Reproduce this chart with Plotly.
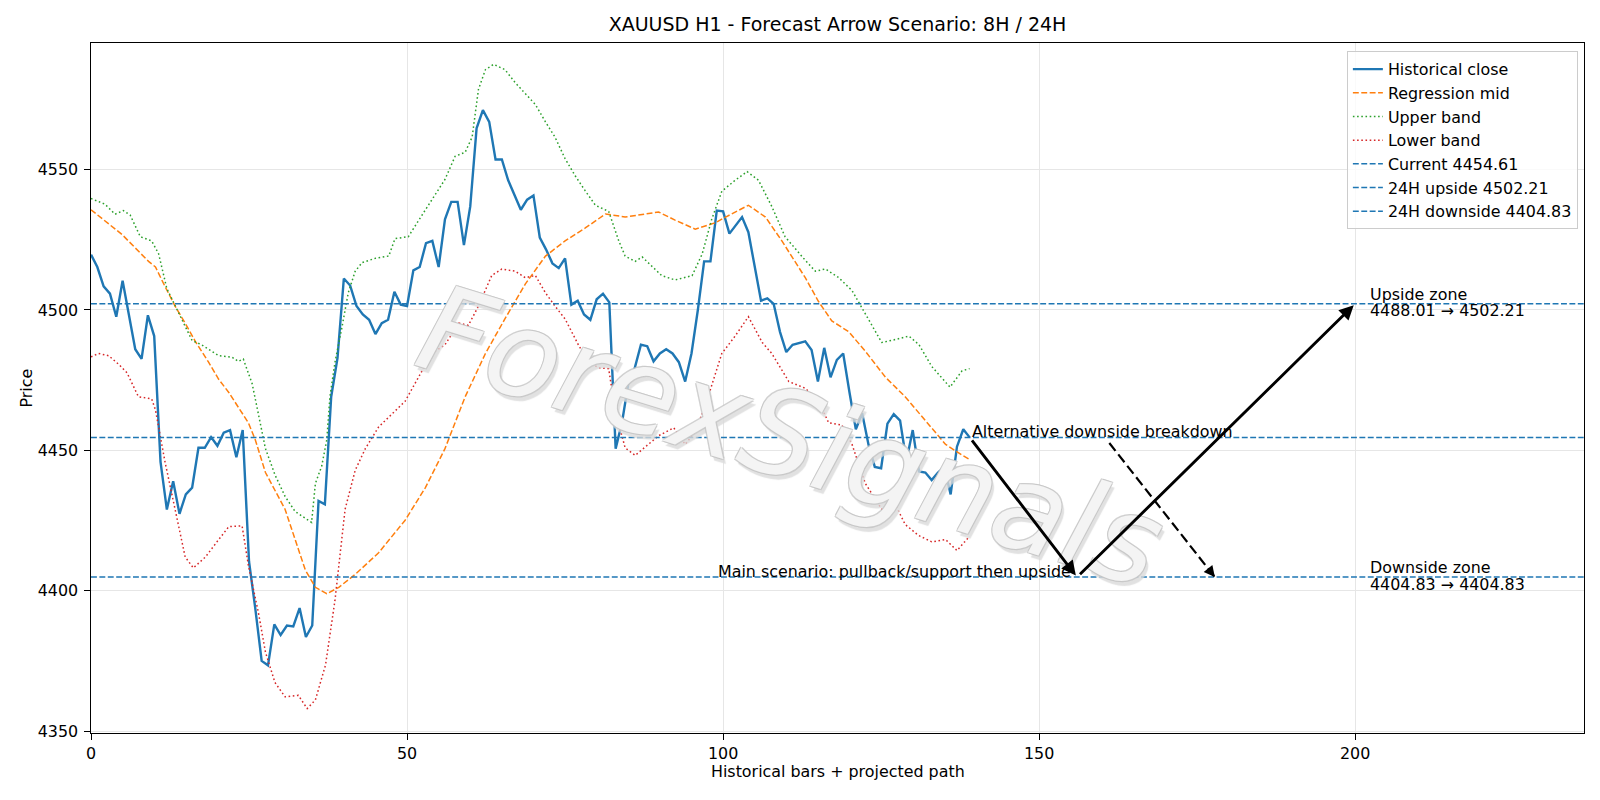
import plotly.graph_objects as go

# ---------------- data ----------------
close = [4519.7, 4515.3, 4508.4, 4505.8, 4497.6, 4510.4, 4498.2, 4486.0, 4482.6, 4498.1,
         4490.7, 4445.9, 4428.9, 4439.0, 4427.4, 4434.3, 4436.7, 4450.9, 4450.9, 4454.7,
         4451.6, 4456.3, 4457.2, 4447.5, 4457.2, 4410.4, 4393.5, 4375.0, 4373.4, 4388.0,
         4384.2, 4387.6, 4387.3, 4393.8, 4383.5, 4387.6, 4432.0, 4430.8, 4469.1, 4482.9,
         4511.2, 4508.7, 4501.4, 4498.4, 4496.5, 4491.4, 4495.3, 4496.5, 4506.5, 4501.9,
         4501.4, 4514.1, 4515.3, 4523.8, 4524.6, 4515.3, 4532.3, 4538.5, 4538.5, 4523.1,
         4536.9, 4564.7, 4571.2, 4567.0, 4553.6, 4553.6, 4546.2, 4540.8, 4535.7, 4539.3,
         4540.8, 4525.8, 4521.5, 4516.6, 4514.9, 4518.4, 4501.9, 4503.3, 4498.4, 4496.5,
         4503.8, 4505.8, 4502.7, 4450.6, 4459.8, 4473.7, 4479.1, 4487.6, 4487.1, 4481.7,
         4484.5, 4486.0, 4484.5, 4481.4, 4474.5, 4484.5, 4499.9, 4517.3, 4517.3, 4535.4,
         4535.1, 4527.2, 4530.0, 4533.1, 4527.7, 4515.3, 4503.3, 4504.1, 4502.2, 4492.2,
         4485.0, 4487.6, 4488.2, 4488.8, 4485.7, 4474.5, 4486.5, 4476.0, 4482.2, 4484.5,
         4470.6, 4457.5, 4463.2, 4452.1, 4444.1, 4443.6, 4459.5, 4462.9, 4460.6, 4446.2,
         4457.2, 4442.5, 4442.1, 4439.4, 4442.1, 4444.1, 4434.3, 4451.3, 4457.5, 4454.61]
bars = list(range(len(close)))

mid_x = [0, 4.9, 9.1, 10.2, 11.7, 13.3, 14.9, 16.5, 18.6, 20.2, 21.8, 23.3, 24.9, 26.0, 27.6,
         30.7, 33.9, 35.5, 37.3, 39.2, 41.8, 45.5, 49.7, 52.9, 56.0, 59.2, 62.4, 65.5, 68.7,
         71.9, 75.0, 78.2, 81.4, 84.5, 89.8, 92.4, 95.6, 98.8, 100.4, 104.0, 106.7, 109.3,
         113.0, 115.1, 117.2, 119.9, 122.5, 125.7, 128.8, 132.0, 135.2, 137.8, 139]
mid_y = [4535.7, 4526.9, 4517.3, 4515.3, 4508.4, 4501.4, 4495.3, 4488.8, 4481.4, 4475.3,
         4470.6, 4465.2, 4459.8, 4453.7, 4442.1, 4429.0, 4407.4, 4401.2, 4398.9, 4401.2,
         4405.8, 4413.5, 4425.1, 4436.7, 4450.6, 4469.1, 4484.5, 4496.9, 4509.2, 4519.2,
         4524.6, 4529.2, 4534.2, 4533.1, 4534.9, 4532.0, 4528.8, 4531.1, 4533.1, 4537.3,
         4533.1, 4524.6, 4511.5, 4503.0, 4496.1, 4492.2, 4485.3, 4476.0, 4469.1, 4460.6,
         4452.1, 4448.3, 4446.7]

upper_x = [0, 2.2, 3.8, 5.1, 6.2, 7.8, 9.6, 10.7, 12.0, 13.3, 16.0, 17.5, 20.2, 22.3, 23.3,
           24.1, 25.5, 27.6, 29.1, 30.7, 32.3, 34.9, 35.5, 36.5, 37.3, 37.8, 38.6, 39.7, 40.7,
           41.8, 42.9, 45.0, 47.1, 48.1, 50.2, 52.4, 53.9, 56.0, 57.6, 59.2, 60.3, 61.3, 62.4,
           63.7, 65.5, 67.1, 68.7, 70.3, 71.9, 73.4, 75.0, 76.6, 78.2, 79.8, 81.9, 83.5, 84.5,
           86.1, 87.2, 88.8, 90.3, 92.4, 95.1, 96.7, 98.2, 99.8, 101.9, 103.8, 105.6, 107.7,
           109.8, 113.0, 114.6, 116.2, 118.3, 120.4, 122.5, 125.1, 127.3, 129.4, 131.0, 133.0,
           135.9, 137.8, 139]
upper_y = [4539.7, 4537.7, 4534.1, 4535.4, 4533.8, 4526.1, 4524.6, 4520.0, 4507.6, 4501.4,
           4489.1, 4487.6, 4483.7, 4483.2, 4481.7, 4482.5, 4473.7, 4450.6, 4441.3, 4433.6,
           4428.2, 4424.3, 4438.2, 4444.4, 4453.7, 4469.1, 4481.4, 4493.8, 4506.1, 4513.8,
           4516.9, 4518.4, 4519.2, 4525.4, 4526.1, 4533.9, 4539.3, 4546.5, 4554.7, 4556.2,
           4561.6, 4578.6, 4585.6, 4587.5, 4585.6, 4581.0, 4577.1, 4573.2, 4567.0, 4561.6,
           4553.9, 4547.8, 4542.4, 4537.3, 4535.1, 4524.6, 4519.2, 4517.3, 4518.9, 4515.3,
           4512.2, 4510.7, 4512.2, 4520.0, 4532.3, 4542.3, 4546.2, 4549.3, 4546.2, 4536.9,
           4526.1, 4517.7, 4513.8, 4514.6, 4511.5, 4506.9, 4498.4, 4488.4, 4489.5, 4490.7,
           4487.6, 4479.9, 4472.5, 4478.3, 4479.1]

lower_x = [0, 1.2, 2.8, 4.4, 5.7, 7.5, 9.6, 10.2, 11.7, 13.3, 14.9, 16.2, 18.1, 20.2, 21.8,
           23.9, 24.9, 26.5, 27.6, 29.1, 30.7, 32.8, 34.2, 35.5, 37.1, 38.6, 40.2, 41.8, 43.4,
           45.5, 47.6, 49.7, 51.8, 53.9, 56.0, 58.2, 59.7, 61.3, 63.4, 65.0, 67.1, 68.7, 70.3,
           71.9, 73.4, 75.0, 77.1, 78.7, 80.3, 81.9, 82.9, 84.5, 86.1, 87.7, 89.8, 92.2, 94.0,
           95.6, 97.2, 99.8, 101.9, 104.0, 106.2, 107.7, 110.4, 113.0, 115.1, 116.7, 118.8,
           120.4, 122.5, 125.1, 127.3, 128.8, 130.9, 133.0, 135.2, 137.0, 139]
lower_y = [4483.3, 4484.5, 4483.7, 4480.6, 4477.6, 4469.1, 4468.3, 4464.4, 4446.0, 4429.0,
           4412.0, 4408.1, 4412.0, 4418.2, 4422.8, 4423.1, 4409.0, 4392.0, 4378.1, 4367.3,
           4362.2, 4362.7, 4358.0, 4361.1, 4373.5, 4396.6, 4429.0, 4442.9, 4450.6, 4458.3,
           4462.9, 4467.5, 4476.0, 4484.5, 4487.6, 4495.3, 4494.5, 4501.4, 4512.3, 4514.6,
           4513.8, 4511.5, 4512.3, 4506.1, 4501.4, 4496.8, 4487.6, 4481.4, 4479.4, 4479.1,
           4464.4, 4450.9, 4448.2, 4451.3, 4455.2, 4458.0, 4452.1, 4456.7, 4466.0, 4484.5,
           4490.7, 4497.6, 4488.4, 4484.5, 4474.5, 4472.1, 4467.5, 4459.8, 4459.0, 4452.1,
           4438.2, 4429.0, 4430.5, 4423.6, 4419.7, 4417.4, 4418.2, 4414.3, 4419.4]

current_price = 4454.61
upside_24h = 4502.21
downside_24h = 4404.83
upside_zone_low = 4488.01

main_path_x = [139, 156, 200]
main_path_y = [current_price, downside_24h, upside_24h]
alt_start = (161.1, 4452.6)
alt_end = (177.8, downside_24h)
zone_label_x = 202
main_label_x = 155.3

x_range = [0, 236.2]
y_range = [4349.3, 4595.1]
x_ticks = [0, 50, 100, 150, 200]
y_ticks = [4350, 4400, 4450, 4500, 4550]

# ---------------- style ----------------
FONT = "DejaVu Sans"
FS = 15.9
BLUE = "#1f77b4"
ORANGE = "#ff7f0e"
GREEN = "#2ca02c"
RED = "#d62728"
DASH = "5.9px,2.5px"
DOT = "1.6px,2.6px"
TEXT_SHIFT = -6

W, H = 1600, 800
ML, MR, MT, MB = 91, 16, 43, 67
pw = W - ML - MR
ph = H - MT - MB

fig = go.Figure()
fig.add_trace(go.Scatter(x=bars, y=close, mode="lines", name="Historical close",
                         line=dict(color=BLUE, width=2.4)))
fig.add_trace(go.Scatter(x=mid_x, y=mid_y, mode="lines", name="Regression mid",
                         line=dict(color=ORANGE, width=1.5, dash=DASH)))
fig.add_trace(go.Scatter(x=upper_x, y=upper_y, mode="lines", name="Upper band",
                         line=dict(color=GREEN, width=1.5, dash=DOT)))
fig.add_trace(go.Scatter(x=lower_x, y=lower_y, mode="lines", name="Lower band",
                         line=dict(color=RED, width=1.5, dash=DOT)))
for lvl, nm in [(current_price, f"Current {current_price:.2f}"),
                (upside_24h, f"24H upside {upside_24h:.2f}"),
                (downside_24h, f"24H downside {downside_24h:.2f}")]:
    fig.add_trace(go.Scatter(x=x_range, y=[lvl, lvl], mode="lines", name=nm,
                             line=dict(color=BLUE, width=1.5, dash=DASH)))

txt_font = dict(family=FONT, size=FS, color="black")
annotations = []

# watermark (drawn first so the scenario arrows/text sit on top)
wm_shadow = ("-1px -1px 0 #c6c6c6, 1px -1px 0 #c6c6c6, -1px 1px 0 #c6c6c6, "
             "1px 1px 0 #c6c6c6, 4px 4px 1px #dadada")
annotations.append(dict(x=0.469, y=0.43, xref="paper", yref="paper",
                        text="ForexSignals", showarrow=False, textangle=17,
                        xanchor="center", yanchor="middle",
                        font=dict(family=FONT, size=120, color="rgba(255,255,255,0.8)",
                                  style="italic", shadow=wm_shadow)))

# main scenario arrows
for i in range(len(main_path_x) - 1):
    annotations.append(dict(x=main_path_x[i + 1], y=main_path_y[i + 1],
                            ax=main_path_x[i], ay=main_path_y[i],
                            xref="x", yref="y", axref="x", ayref="y",
                            showarrow=True, arrowhead=2, arrowsize=1.0, arrowwidth=2.9,
                            arrowcolor="black", standoff=2, startstandoff=2, text=""))

# dashed alternative arrow: dashed body + arrowhead
fig.add_shape(type="line", x0=alt_start[0], y0=alt_start[1], x1=alt_end[0], y1=alt_end[1],
              xref="x", yref="y", line=dict(color="black", width=2.2, dash="10px,4.5px"))
ppx = pw / (x_range[1] - x_range[0])
ppy = ph / (y_range[1] - y_range[0])
dxp = (alt_end[0] - alt_start[0]) * ppx
dyp = -(alt_end[1] - alt_start[1]) * ppy
L = (dxp ** 2 + dyp ** 2) ** 0.5
annotations.append(dict(x=alt_end[0], y=alt_end[1], xref="x", yref="y",
                        ax=-dxp / L * 12, ay=-dyp / L * 12, axref="pixel", ayref="pixel",
                        showarrow=True, arrowhead=2, arrowsize=1.0, arrowwidth=2.2,
                        arrowcolor="black", text=""))

annotations.append(dict(x=main_path_x[0], y=current_price, xref="x", yref="y",
                        text="Alternative downside breakdown", showarrow=False,
                        xanchor="left", yanchor="bottom", yshift=TEXT_SHIFT, font=txt_font))
annotations.append(dict(x=main_label_x, y=downside_24h, xref="x", yref="y",
                        text="Main scenario: pullback/support then upside", showarrow=False,
                        xanchor="right", yanchor="bottom", yshift=TEXT_SHIFT, font=txt_font))

# zone labels (two lines each)
for lvl, head, body in [(upside_24h, "Upside zone", f"{upside_zone_low:.2f} → {upside_24h:.2f}"),
                        (downside_24h, "Downside zone", f"{downside_24h:.2f} → {downside_24h:.2f}")]:
    annotations.append(dict(x=zone_label_x, y=lvl + 1.4, xref="x", yref="y", text=head,
                            showarrow=False, xanchor="left", yanchor="bottom",
                            yshift=TEXT_SHIFT, font=txt_font))
    annotations.append(dict(x=zone_label_x, y=lvl - 4.5, xref="x", yref="y", text=body,
                            showarrow=False, xanchor="left", yanchor="bottom",
                            yshift=TEXT_SHIFT, font=txt_font))

# axis titles
annotations.append(dict(x=0.5, y=-(771.4 - (H - MB)) / ph, xref="paper", yref="paper",
                        text="Historical bars + projected path", showarrow=False,
                        xanchor="center", yanchor="middle", font=txt_font))
annotations.append(dict(x=(25.5 - ML) / pw, y=0.5, xref="paper", yref="paper",
                        text="Price", showarrow=False, textangle=-90,
                        xanchor="center", yanchor="middle", font=txt_font))

axis_common = dict(showline=True, linecolor="black", linewidth=1.2, mirror=True,
                   ticks="outside", ticklen=5.6, tickwidth=1.2, tickcolor="black",
                   showgrid=True, gridcolor="#e6e6e6", gridwidth=1.1, zeroline=False,
                   tickfont=dict(family=FONT, size=FS, color="black"))

fig.update_layout(
    width=W, height=H,
    margin=dict(l=ML, r=MR, t=MT, b=MB, pad=0),
    paper_bgcolor="white", plot_bgcolor="white",
    title=dict(text="XAUUSD H1 - Forecast Arrow Scenario: 8H / 24H",
               x=0.5, xref="paper", xanchor="center", y=1 - 24.5 / H, yanchor="middle",
               font=dict(family=FONT, size=19, color="black")),
    xaxis=dict(range=x_range, tickvals=x_ticks, **axis_common),
    yaxis=dict(range=y_range, tickvals=y_ticks, ticklabelstandoff=3, **axis_common),
    legend=dict(x=0.9959, y=0.988, xanchor="right", yanchor="top",
                bgcolor="rgba(255,255,255,0.8)", bordercolor="#cccccc", borderwidth=1,
                font=dict(family=FONT, size=FS, color="black"), tracegroupgap=0),
    annotations=annotations,
    showlegend=True,
)

fig.write_html("out.html")
